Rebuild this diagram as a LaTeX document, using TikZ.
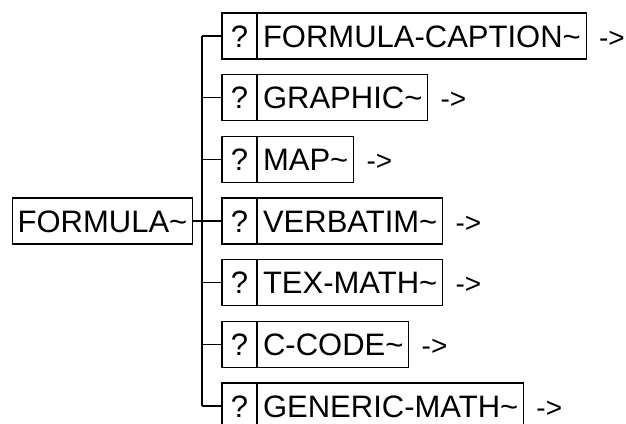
\documentclass[tikz,border=0pt]{standalone}
\usepackage{fontspec}
\setmainfont{Liberation Sans}
\begin{document}
\begin{tikzpicture}[x=1pt,y=-1pt,
  every node/.style={font=\fontsize{31}{31}\selectfont, text height=22.5pt, text depth=0pt},
  box/.style={draw, line width=1.1pt, minimum height=46pt, inner xsep=5.5pt, inner ysep=0pt},
  qbox/.style={box, minimum width=35pt, inner xsep=0pt},
  arr/.style={anchor=west, inner sep=0pt, xshift=12pt, font=\fontsize{28}{28}\selectfont},
  conn/.style={line width=1.1pt}]
\useasboundingbox (0,0) rectangle (626,423);
\fill[white] (0,0) rectangle (626,423);
\coordinate (t) at (202,0);
\node[box] (f) at (102.5,221) {FORMULA\textasciitilde};
\foreach \i/\name in {1/FORMULA-CAPTION,2/GRAPHIC,3/MAP,4/VERBATIM,5/TEX-MATH,6/C-CODE,7/GENERIC-MATH}{
  \node[qbox] (q\i) at (239.5,{36+61.67*(\i-1)}) {?};
  \node[box, anchor=west, xshift=-0.55pt] (n\i) at (q\i.east) {\name\textasciitilde};
  \node[arr] (a\i) at (n\i.east) {->};
  \draw[conn] (q\i.west) -- (q\i.west -| t);
}
\draw[conn] (q1.west -| t) -- (q7.west -| t);
\draw[conn] (f.east) -- (f.east -| t);
\end{tikzpicture}
\end{document}
